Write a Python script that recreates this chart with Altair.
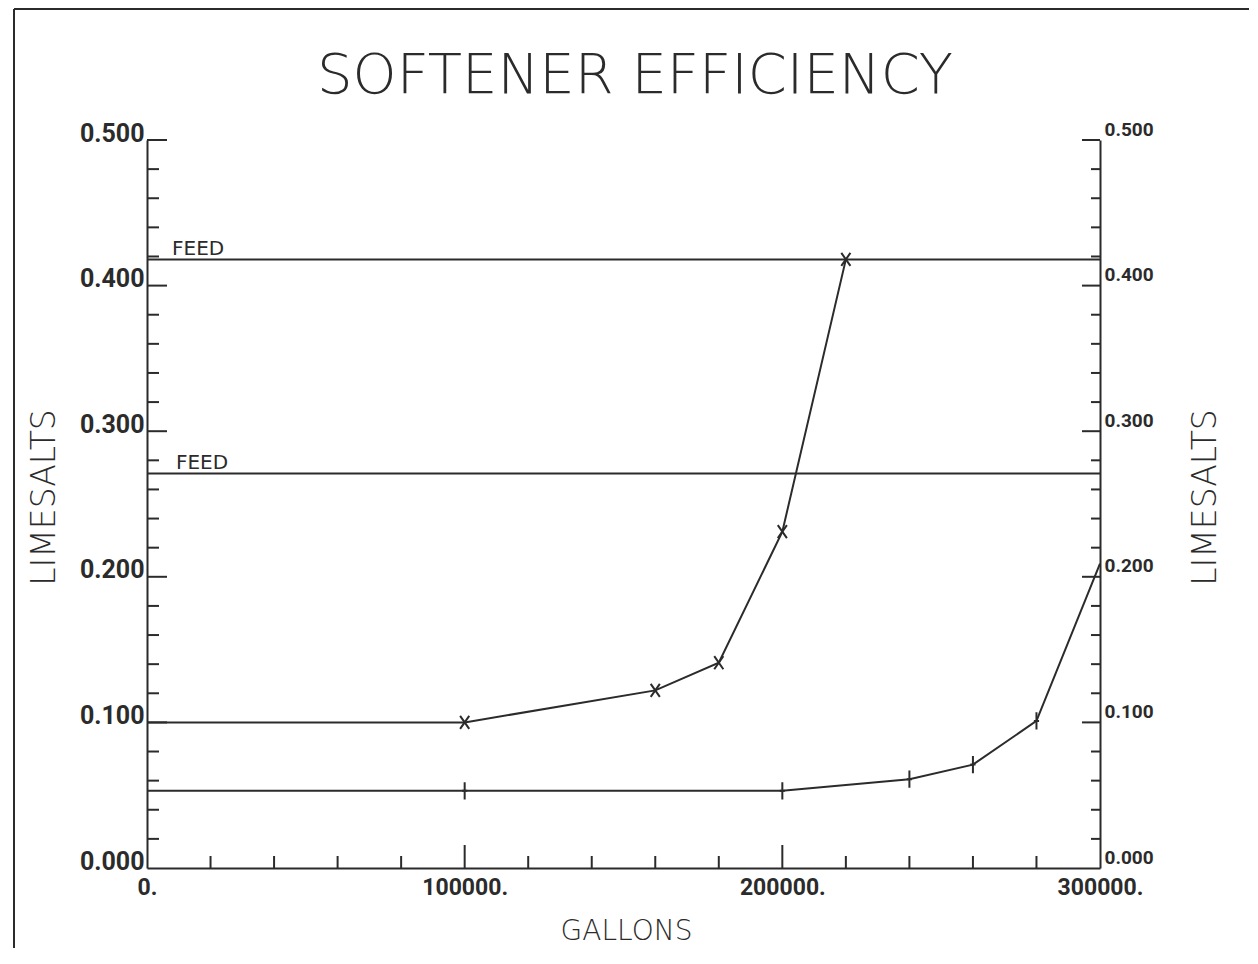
import altair as alt
import pandas as pd

# ---- data ----
gallons_a = [0, 100000, 160000, 180000, 200000, 220000]
limesalts_a = [0.100, 0.100, 0.122, 0.141, 0.231, 0.418]
marked_a = [False, True, True, True, True, True]

gallons_b = [0, 100000, 200000, 240000, 260000, 280000, 300000]
limesalts_b = [0.053, 0.053, 0.053, 0.061, 0.071, 0.101, 0.209]
marked_b = [False, True, True, True, True, True, False]

feed_levels = [0.418, 0.271]
feed_labels = ["FEED", "FEED"]
feed_label_x = [7900, 9100]

x_label_values = [0, 100000, 200000, 300000]
y_label_values = [0.0, 0.1, 0.2, 0.3, 0.4, 0.5]
x_major = [100000, 200000]
x_minor = [20000, 40000, 60000, 80000, 120000, 140000, 160000, 180000,
           220000, 240000, 260000, 280000]
y_major = [0.1, 0.2, 0.3, 0.4, 0.5]
y_minor = [0.02, 0.04, 0.06, 0.08, 0.12, 0.14, 0.16, 0.18, 0.22, 0.24,
           0.26, 0.28, 0.32, 0.34, 0.36, 0.38, 0.42, 0.44, 0.46, 0.48]

title_text = "SOFTENER EFFICIENCY"
x_title = "GALLONS"
y_title = "LIMESALTS"

# ---- styling ----
INK = "#2b2b2b"
THIN = "DejaVu Sans"
DIGITS = "Roboto"
W, H = 953, 728

xs = alt.Scale(domain=[0, 300000], nice=False, zero=False)
ys = alt.Scale(domain=[0, 0.5], nice=False, zero=False)

df_a = pd.DataFrame({"g": gallons_a, "v": limesalts_a, "m": marked_a})
df_b = pd.DataFrame({"g": gallons_b, "v": limesalts_b, "m": marked_b})
df_feed = pd.DataFrame({"v": feed_levels, "label": feed_labels, "gx": feed_label_x})
one = pd.DataFrame({"a": [0]})

x_axis = alt.Axis(
    values=x_label_values, labelExpr="format(datum.value, 'd') + '.'",
    ticks=False, grid=False, domain=True, domainColor=INK, domainWidth=2,
    labelFont=DIGITS, labelFontSize=23, labelFontWeight="bold", labelColor=INK,
    labelBaseline="top", labelPadding=8, labelAlign="center", labelFlush=False,
    labelOverlap=False,
    title=x_title, titleFont=THIN, titleFontSize=28, titleFontWeight=200,
    titleColor=INK, titleX=479, titleY=63, titleAlign="center", titleBaseline="middle",
)
y_axis_left = alt.Axis(
    orient="left", values=y_label_values, format=".3f",
    ticks=False, grid=False, domain=True, domainColor=INK, domainWidth=2,
    labelFont=DIGITS, labelFontSize=25, labelFontWeight="bold", labelColor=INK,
    labelBaseline="alphabetic", labelAlign="right", labelPadding=3, labelOffset=1,
    labelFlush=False, labelOverlap=False,
    title=y_title, titleFont=THIN, titleFontSize=33, titleFontWeight=200,
    titleColor=INK, titleX=-103, titleY=357, titleAngle=270,
    titleAlign="center", titleBaseline="middle",
)
y_axis_right = alt.Axis(
    orient="right", values=y_label_values, format=".3f",
    ticks=False, grid=False, domain=True, domainColor=INK, domainWidth=2,
    labelFont=DIGITS, labelFontSize=19, labelFontWeight="bold", labelColor=INK,
    labelBaseline="alphabetic", labelAlign="left", labelPadding=4, labelOffset=-5,
    labelFlush=False, labelOverlap=False,
    title=y_title, titleFont=THIN, titleFontSize=33, titleFontWeight=200,
    titleColor=INK, titleX=105, titleY=357, titleAngle=270,
    titleAlign="center", titleBaseline="middle",
)

X_PATH = "M-0.7,-1L0.7,1M0.7,-1L-0.7,1"
PLUS_PATH = "M0,-1L0,1M-0.3,0L0.3,0"


def X(field):
    return alt.X(field, scale=xs, axis=x_axis)


def Y(field, axis=None):
    return alt.Y(field, scale=ys, axis=axis)


line_a = alt.Chart(df_a).mark_line(color=INK, strokeWidth=2).encode(
    x=X("g:Q"), y=Y("v:Q", y_axis_left),
)
pts_a = alt.Chart(df_a).transform_filter("datum.m").mark_point(
    shape=X_PATH, filled=False, stroke=INK, strokeWidth=2, size=170, opacity=1
).encode(x=X("g:Q"), y=Y("v:Q"))

line_b = alt.Chart(df_b).mark_line(color=INK, strokeWidth=2).encode(
    x=X("g:Q"), y=Y("v:Q")
)
pts_b = alt.Chart(df_b).transform_filter("datum.m").mark_point(
    shape=PLUS_PATH, filled=False, stroke=INK, strokeWidth=2, size=300, opacity=1
).encode(x=X("g:Q"), y=Y("v:Q"))

feed_lines = alt.Chart(df_feed).mark_rule(color=INK, strokeWidth=2).encode(
    y=Y("v:Q"), x=alt.value(0), x2=alt.value(W)
)
feed_text = alt.Chart(df_feed).mark_text(
    align="left", baseline="alphabetic", dy=-4, font="DejaVu Sans",
    fontSize=20, color=INK
).encode(x=X("gx:Q"), y=Y("v:Q"), text="label:N")

# tick marks (drawn inside the frame, as on the plotter original)
ly_major = alt.Chart(pd.DataFrame({"v": y_major})).mark_rule(color=INK, strokeWidth=2).encode(
    y=Y("v:Q"), x=alt.value(0), x2=alt.value(20))
ly_minor = alt.Chart(pd.DataFrame({"v": y_minor})).mark_rule(color=INK, strokeWidth=2).encode(
    y=Y("v:Q"), x=alt.value(0), x2=alt.value(12))
ry_major = alt.Chart(pd.DataFrame({"v": y_major})).mark_rule(color=INK, strokeWidth=2).encode(
    y=Y("v:Q", y_axis_right), x=alt.value(W - 18), x2=alt.value(W))
ry_minor = alt.Chart(pd.DataFrame({"v": y_minor})).mark_rule(color=INK, strokeWidth=2).encode(
    y=Y("v:Q"), x=alt.value(W - 9), x2=alt.value(W))
x_major_t = alt.Chart(pd.DataFrame({"g": x_major})).mark_rule(color=INK, strokeWidth=2).encode(
    x=X("g:Q"), y=alt.value(H - 23), y2=alt.value(H))
x_minor_t = alt.Chart(pd.DataFrame({"g": x_minor})).mark_rule(color=INK, strokeWidth=2).encode(
    x=X("g:Q"), y=alt.value(H - 12), y2=alt.value(H))

title = alt.Chart(one).mark_text(
    text=title_text, font=THIN, fontSize=56, fontWeight=200, color=INK,
    align="center", baseline="alphabetic"
).encode(x=alt.value(488), y=alt.value(-47))

frame_left = alt.Chart(one).mark_rule(color=INK, strokeWidth=2).encode(
    x=alt.value(-133), y=alt.value(-131), y2=alt.value(808))
frame_top = alt.Chart(one).mark_rule(color=INK, strokeWidth=2).encode(
    x=alt.value(-133), x2=alt.value(1102), y=alt.value(-131))

chart = alt.layer(
    line_a, line_b, pts_a, pts_b, feed_lines, feed_text,
    ly_major, ly_minor, ry_major, ry_minor, x_major_t, x_minor_t,
    title, frame_left, frame_top,
).resolve_axis(y="independent").properties(
    width=W, height=H,
    autosize=alt.AutoSizeParams(type="none"),
    padding={"left": 139, "top": 132, "right": 150, "bottom": 88},
    background="white",
).configure_view(stroke=None)

chart.save("out.html", embed_options={"renderer": "svg", "actions": False})
